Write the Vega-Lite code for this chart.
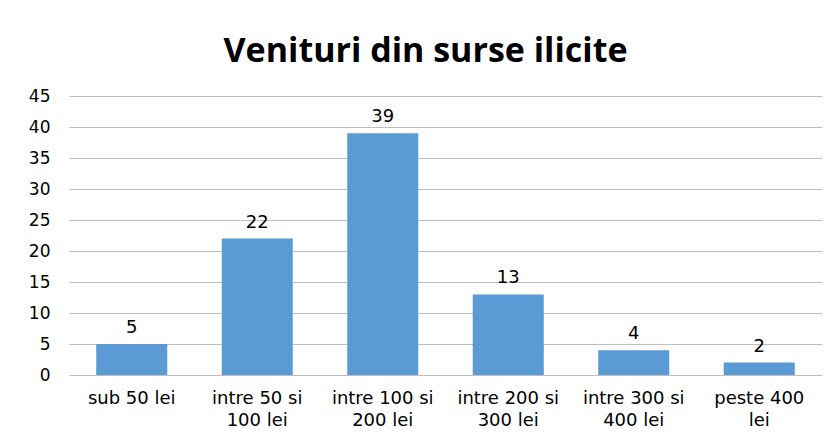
{
  "$schema": "https://vega.github.io/schema/vega-lite/v6.json",
  "width": 753,
  "height": 279,
  "autosize": {"type": "none"},
  "padding": {"left": 69, "top": 96, "right": 11, "bottom": 61},
  "background": "white",
  "title": {
    "text": "Venituri din surse ilicite",
    "font": "Open Sans",
    "fontWeight": "bold",
    "fontSize": 34,
    "color": "#000000",
    "anchor": "middle",
    "dx": -20,
    "offset": 18
  },
  "data": {
    "values": [
      {"cat": "sub 50 lei", "n": 5},
      {"cat": "intre 50 si\n100 lei", "n": 22},
      {"cat": "intre 100 si\n200 lei", "n": 39},
      {"cat": "intre 200 si\n300 lei", "n": 13},
      {"cat": "intre 300 si\n400 lei", "n": 4},
      {"cat": "peste 400\nlei", "n": 2}
    ]
  },
  "encoding": {
    "x": {
      "field": "cat",
      "type": "nominal",
      "sort": null,
      "scale": {"paddingInner": 0.434, "paddingOuter": 0.217},
      "axis": {
        "title": null,
        "labelAngle": 0,
        "labelExpr": "split(datum.value, '\\n')",
        "labelFont": "DejaVu Sans",
        "labelFontSize": 18,
        "labelColor": "#000000",
        "labelLineHeight": 22,
        "labelPadding": 14,
        "ticks": false,
        "domain": false,
        "labelBaseline": "top"
      }
    },
    "y": {
      "field": "n",
      "type": "quantitative",
      "scale": {"domain": [0, 45]},
      "axis": {
        "title": null,
        "values": [0, 5, 10, 15, 20, 25, 30, 35, 40, 45],
        "labelFont": "DejaVu Sans",
        "labelFontSize": 17,
        "labelColor": "#000000",
        "labelPadding": 19,
        "ticks": false,
        "domain": false,
        "gridColor": "#BFBFBF",
        "gridWidth": 1
      }
    }
  },
  "layer": [
    {"mark": {"type": "bar", "color": "#5B9BD5"}},
    {
      "mark": {
        "type": "text",
        "font": "DejaVu Sans",
        "fontSize": 18,
        "color": "#000000",
        "baseline": "alphabetic",
        "dy": -11
      },
      "encoding": {"text": {"field": "n", "type": "quantitative"}}
    }
  ],
  "config": {"view": {"stroke": null}}
}
